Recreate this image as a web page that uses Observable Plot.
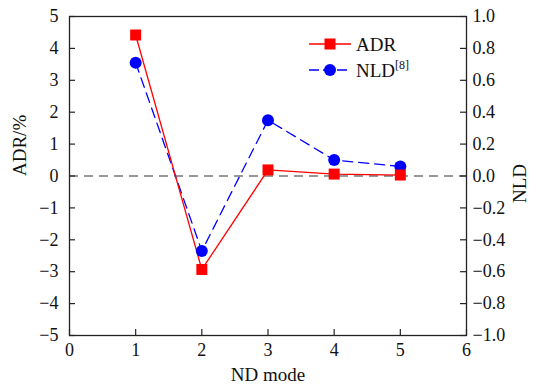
<!DOCTYPE html>
<html>
<head>
<meta charset="utf-8">
<script src="https://cdn.jsdelivr.net/npm/d3@7"></script>
<script src="https://cdn.jsdelivr.net/npm/@observablehq/plot@0.6"></script>
<style>
  body { margin: 0; background: white; }
  #wrap { position: relative; width: 538px; height: 391px; font-family: "Liberation Serif", serif; }
  #wrap svg text { font-family: "Liberation Serif", serif; }
  #legend { position: absolute; left: 305px; top: 30px; }
</style>
</head>
<body>
<div id="wrap"></div>
<script>
// Data
const modes = [1, 2, 3, 4, 5];
const adr = [4.42, -2.93, 0.19, 0.06, 0.03];
const nld = [0.71, -0.47, 0.35, 0.10, 0.06];
const xTicks = [0, 1, 2, 3, 4, 5, 6];
const adrTicks = [-5, -4, -3, -2, -1, 0, 1, 2, 3, 4, 5];
const nldScale = 5; // NLD 1.0 ↔ ADR 5 %

const adrData = modes.map((m, i) => ({mode: m, value: adr[i]}));
const nldData = modes.map((m, i) => ({mode: m, value: nld[i] * nldScale}));

const W = 538, H = 391, mL = 69, mR = 72, mT = 16, mB = 56;
const innerW = W - mL - mR, innerH = H - mT - mB;
const tickLen = 6;
const fmtL = d3.format("d");
const fmtR = d3.format(".1f");

const chart = Plot.plot({
  width: W, height: H,
  marginLeft: mL, marginRight: mR, marginTop: mT, marginBottom: mB,
  style: {fontFamily: "'Liberation Serif', serif", fontSize: "18px", color: "#111", background: "white"},
  x: {domain: [0, 6]},
  y: {domain: [-5, 5]},
  marks: [
    Plot.ruleY([0], {stroke: "#333", strokeWidth: 1.2, strokeDasharray: "9,6"}),
    // inward ticks
    Plot.tickY(adrTicks, {y: d => d, insetRight: innerW - tickLen, stroke: "#222", strokeWidth: 1.2}),
    Plot.tickY(adrTicks, {y: d => d, insetLeft: innerW - tickLen, stroke: "#222", strokeWidth: 1.2}),
    Plot.tickX(xTicks, {x: d => d, insetTop: innerH - tickLen, stroke: "#222", strokeWidth: 1.2}),
    Plot.axisY(adrTicks, {anchor: "left", tickSize: 0, tickPadding: 11, tickFormat: fmtL, fontSize: 18,
      label: null}),
    Plot.axisY(adrTicks, {anchor: "right", tickSize: 0, tickPadding: 6, tickFormat: d => fmtR(d / nldScale), fontSize: 18,
      label: null}),
    Plot.axisX(xTicks, {anchor: "bottom", tickSize: 0, tickPadding: 8, tickFormat: fmtL, fontSize: 18,
      label: null}),
    Plot.text(["ADR/%"], {frameAnchor: "left", rotate: -90, dx: -50, fontSize: 19, fill: "#111"}),
    Plot.text(["NLD"], {frameAnchor: "right", rotate: -90, dx: 53, dy: -12, fontSize: 19, fill: "#111"}),
    Plot.text(["ND mode"], {frameAnchor: "bottom", dy: 45, fontSize: 19, fill: "#111"}),
    Plot.frame({stroke: "#222", strokeWidth: 1.3}),
    Plot.line(nldData, {x: "mode", y: "value", stroke: "#0000ff", strokeWidth: 1.3, strokeDasharray: "10,6"}),
    Plot.line(adrData, {x: "mode", y: "value", stroke: "#ff0000", strokeWidth: 1.3}),
    Plot.dot(nldData, {x: "mode", y: "value", fill: "#0000ff", r: 6}),
    Plot.dot(adrData, {x: "mode", y: "value", fill: "#ff0000", symbol: "square", r: 6.2})
  ]
});

const wrap = document.getElementById("wrap");
wrap.appendChild(chart);

// Legend overlay
const legend = document.createElement("div");
legend.id = "legend";
legend.innerHTML = `
<svg width="120" height="60" style="overflow:visible;font-family:'Liberation Serif',serif">
  <line x1="4" x2="46" y1="14" y2="14" stroke="#ff0000" stroke-width="1.3"/>
  <rect x="19.5" y="8.5" width="11" height="11" fill="#ff0000"/>
  <text x="51" y="14" dy="0.35em" font-size="19" fill="#111">ADR</text>
  <line x1="4" x2="46" y1="40" y2="40" stroke="#0000ff" stroke-width="1.3" stroke-dasharray="10,4"/>
  <circle cx="25" cy="40" r="6" fill="#0000ff"/>
  <text x="51" y="40" dy="0.35em" font-size="19" fill="#111">NLD<tspan font-size="12" dy="-0.6em">[8]</tspan></text>
</svg>`;
wrap.appendChild(legend);
</script>
</body>
</html>
